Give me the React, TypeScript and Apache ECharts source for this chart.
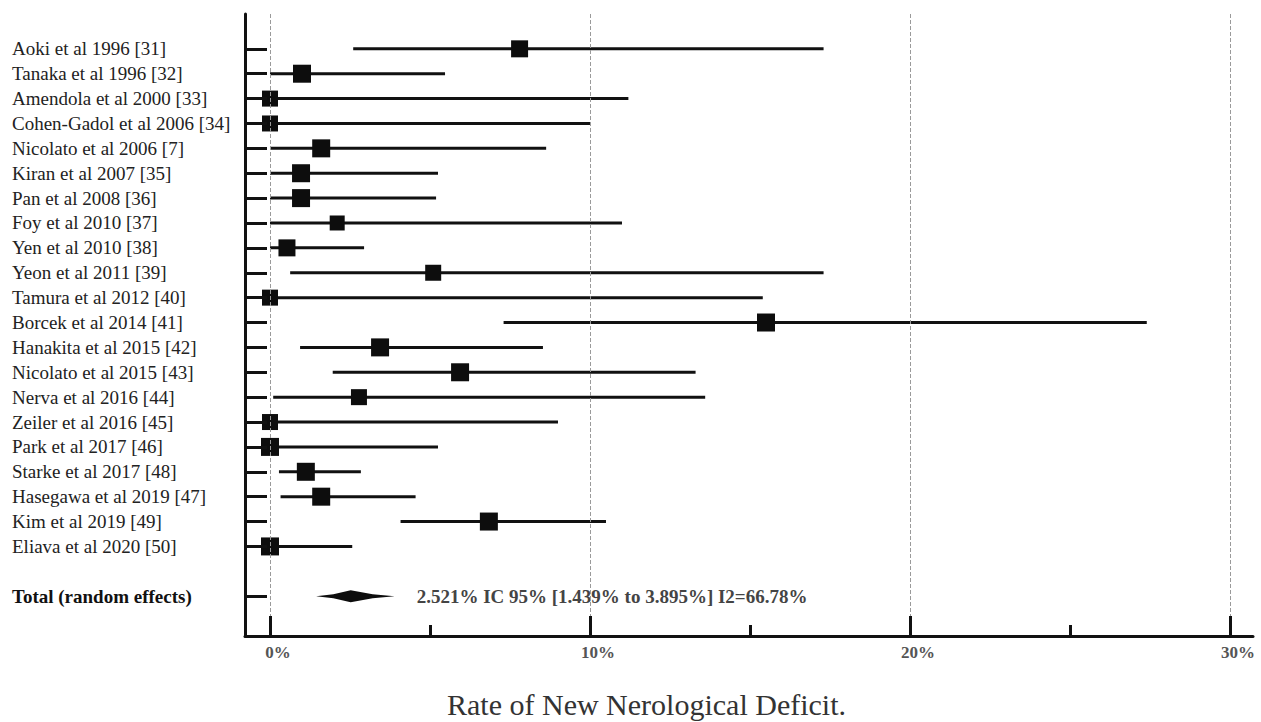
import React, { useEffect, useRef } from "react";
import * as echarts from "echarts";

// ---- Data ----
const studies: string[] = [
  "Aoki et al 1996 [31]",
  "Tanaka et al 1996 [32]",
  "Amendola et al 2000 [33]",
  "Cohen-Gadol et al 2006 [34]",
  "Nicolato et al 2006 [7]",
  "Kiran et al 2007 [35]",
  "Pan et al 2008 [36]",
  "Foy et al 2010 [37]",
  "Yen et al 2010 [38]",
  "Yeon et al 2011 [39]",
  "Tamura et al 2012 [40]",
  "Borcek et al 2014 [41]",
  "Hanakita et al 2015 [42]",
  "Nicolato et al 2015 [43]",
  "Nerva et al 2016 [44]",
  "Zeiler et al 2016 [45]",
  "Park et al 2017 [46]",
  "Starke et al 2017 [48]",
  "Hasegawa et al 2019 [47]",
  "Kim et al 2019 [49]",
  "Eliava et al 2020 [50]",
];
const estimates: number[] = [7.8, 1.0, 0, 0, 1.6, 0.97, 0.97, 2.1, 0.53, 5.1, 0, 15.5, 3.44, 5.94, 2.78, 0, 0, 1.12, 1.6, 6.84, 0];
const lowerCI: number[] = [2.6, 0, 0, 0, 0, 0, 0, 0, 0, 0.63, 0, 7.3, 0.94, 1.96, 0.1, 0, 0, 0.28, 0.33, 4.08, 0];
const upperCI: number[] = [17.3, 5.47, 11.2, 10.0, 8.63, 5.25, 5.19, 11.0, 2.94, 17.3, 15.4, 27.4, 8.53, 13.3, 13.6, 9.0, 5.25, 2.84, 4.55, 10.5, 2.57];
const weights: number[] = [17, 18, 16, 16, 18, 18, 18, 15, 17, 16, 16, 18, 18, 18, 16, 16, 18, 18, 18, 18, 18];

const totalLabel = "Total (random effects)";
const pooledEstimate = 2.521;
const pooledLower = 1.439;
const pooledUpper = 3.895;
const pooledText = "2.521% IC 95% [1.439% to 3.895%] I2=66.78%";

const xMajorTicks: number[] = [0, 10, 20, 30];
const xMinorTicks: number[] = [5, 15, 25];
const axisTitle = "Rate of New Nerological Deficit.";

const studyRows = studies.map((_, i) => i);
const totalRow = studies.length + 1;
const allRows = [...studyRows, totalRow];

const SERIF = "'Liberation Serif', 'Times New Roman', serif";

export default function App() {
  const ref = useRef<HTMLDivElement>(null);

  useEffect(() => {
    if (!ref.current) return;
    const chart = echarts.init(ref.current, null, { renderer: "svg" });

    const rowLabel = (v: number) => {
      const r = Math.round(v);
      if (r === totalRow) return "{b|" + totalLabel + "}";
      return studies[r] ?? "";
    };

    const xMin = -0.78125;
    const xMax = 30.72;

    const option: any = {
      animation: false,
      backgroundColor: "#ffffff",
      grid: { left: 245, right: 8, top: 14, bottom: 86, containLabel: false },
      xAxis: [
        {
          type: "value",
          position: "bottom",
          min: xMin,
          max: xMax,
          z: 10,
          axisLine: { show: true, onZero: false, lineStyle: { color: "#111", width: 3 } },
          axisTick: {
            show: true,
            inside: true,
            length: 20,
            lineStyle: { color: "#111", width: 3 },
            customValues: xMajorTicks,
          },
          axisLabel: {
            show: true,
            customValues: xMajorTicks,
            formatter: "{value}%",
            fontFamily: SERIF,
            fontWeight: "bold",
            fontSize: 17,
            color: "#555",
            margin: 8,
            padding: [0, 0, 0, 16],
          },
          splitLine: { show: false },
        },
        {
          type: "value",
          position: "bottom",
          min: xMin,
          max: xMax,
          z: 10,
          axisLine: { show: false, onZero: false },
          axisTick: {
            show: true,
            inside: true,
            length: 11,
            lineStyle: { color: "#111", width: 3 },
            customValues: xMinorTicks,
          },
          axisLabel: { show: false },
          splitLine: { show: false },
        },
      ],
      yAxis: {
        type: "value",
        inverse: true,
        min: -1.4,
        max: 23.6,
        z: 10,
        axisLine: { show: true, onZero: false, lineStyle: { color: "#111", width: 3 } },
        axisTick: {
          show: true,
          inside: true,
          length: 22,
          lineStyle: { color: "#111", width: 3 },
          customValues: allRows,
        },
        axisLabel: {
          show: true,
          customValues: allRows,
          formatter: rowLabel,
          align: "left",
          margin: 233,
          fontFamily: SERIF,
          fontSize: 19,
          color: "#222",
          rich: {
            b: { fontFamily: SERIF, fontSize: 19, fontWeight: "bold", color: "#111" },
          },
        },
        splitLine: { show: false },
      },
      series: [
        {
          type: "custom",
          name: "studies",
          xAxisIndex: 0,
          yAxisIndex: 0,
          clip: false,
          encode: { x: [0, 2, 3], y: 1 },
          data: studies.map((_, i) => [estimates[i], studyRows[i], lowerCI[i], upperCI[i], weights[i]]),
          renderItem: (_params: any, api: any) => {
            const row = api.value(1);
            const c = api.coord([api.value(0), row]);
            const lo = api.coord([api.value(2), row]);
            const hi = api.coord([api.value(3), row]);
            const s = api.value(4);
            return {
              type: "group",
              children: [
                {
                  type: "line",
                  shape: { x1: lo[0], y1: lo[1], x2: hi[0], y2: hi[1] },
                  style: { stroke: "#111", lineWidth: 3 },
                },
                {
                  type: "rect",
                  shape: { x: c[0] - s / 2, y: c[1] - s / 2, width: s, height: s },
                  style: { fill: "#0d0d0d" },
                },
              ],
            };
          },
          markLine: {
            silent: true,
            symbol: ["none", "none"],
            label: { show: false },
            lineStyle: { type: "dashed", color: "#9a9a9a", width: 1 },
            data: xMajorTicks.map((v) => ({ xAxis: v })),
          },
          z: 3,
        },
        {
          type: "custom",
          name: "pooled",
          xAxisIndex: 0,
          yAxisIndex: 0,
          clip: false,
          encode: { x: [0, 2, 3], y: 1 },
          data: [[pooledEstimate, totalRow, pooledLower, pooledUpper]],
          renderItem: (_params: any, api: any) => {
            const row = api.value(1);
            const c = api.coord([api.value(0), row]);
            const lo = api.coord([api.value(2), row]);
            const hi = api.coord([api.value(3), row]);
            const y = c[1];
            const ml = (lo[0] + c[0]) / 2;
            const mr = (c[0] + hi[0]) / 2;
            return {
              type: "group",
              children: [
                {
                  type: "polygon",
                  shape: {
                    points: [
                      [lo[0], y],
                      [ml, y - 2],
                      [c[0], y - 6],
                      [mr, y - 2],
                      [hi[0], y],
                      [mr, y + 2],
                      [c[0], y + 6],
                      [ml, y + 2],
                    ],
                  },
                  style: { fill: "#0d0d0d" },
                },
                {
                  type: "text",
                  x: hi[0] + 22,
                  y: y,
                  style: {
                    text: pooledText,
                    fontFamily: SERIF,
                    fontWeight: "bold",
                    fontSize: 19,
                    fill: "#444",
                    verticalAlign: "middle",
                    align: "left",
                  },
                },
              ],
            };
          },
          z: 3,
        },
      ],
      graphic: [
        {
          type: "text",
          left: 447,
          top: 689,
          style: {
            text: axisTitle,
            fontFamily: SERIF,
            fontSize: 30,
            fill: "#333",
          },
        },
      ],
    };

    chart.setOption(option);
    return () => chart.dispose();
  }, []);

  return (
    <div
      ref={ref}
      style={{ position: "fixed", left: 0, top: 0, width: 1261, height: 722, background: "#fff" }}
    />
  );
}
